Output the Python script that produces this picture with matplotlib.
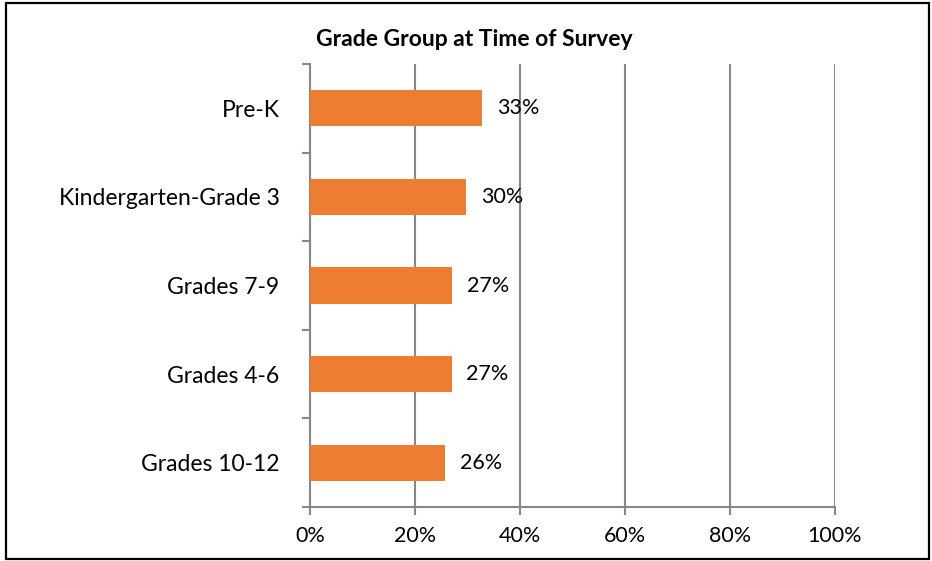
import matplotlib.pyplot as plt
import numpy as np
from matplotlib.patches import Rectangle

plt.rcParams["font.family"] = ["Lato", "DejaVu Sans"]

categorias = ["Pre-K", "Kindergarten-Grade 3", "Grades 7-9", "Grades 4-6", "Grades 10-12"]
valores = [32.8, 29.8, 27.1, 27.0, 25.7]
etiquetas = ["33%", "30%", "27%", "27%", "26%"]
ticks_x = [0, 20, 40, 60, 80, 100]

gris = "#888888"
naranja = "#ED7D31"

fig = plt.figure(figsize=(9.32, 5.61), dpi=100)
ax = fig.add_axes([310 / 932, 1 - 507 / 561, 525 / 932, 443 / 561])

y = np.arange(len(categorias))
ax.barh(y, valores, height=0.41, color=naranja, zorder=3)
for yi, v, t in zip(y, valores, etiquetas):
    ax.text(v + 2.8, yi, t, va="center", ha="left", fontsize=15.5, zorder=4)

ax.set_xlim(0, 100)
ax.set_ylim(len(categorias) - 0.5, -0.5)
ax.set_xticks(ticks_x)
ax.set_xticklabels([f"{t}%" for t in ticks_x], fontsize=15.5)
ax.set_yticks(np.arange(len(categorias) + 1) - 0.5)
ax.set_yticklabels([])
ax.set_yticks(y, minor=True)
ax.set_yticklabels(categorias, minor=True, fontsize=16.5)
ax.tick_params(axis="y", which="minor", length=0, pad=22)
ax.tick_params(axis="y", which="major", length=6, width=1.5, color=gris)
ax.tick_params(axis="x", length=6, width=1.5, color=gris, pad=8)

ax.grid(axis="x", color=gris, linewidth=1.5, zorder=0)
for lado in ["top", "right"]:
    ax.spines[lado].set_visible(False)
for lado in ["left", "bottom"]:
    ax.spines[lado].set_color(gris)
    ax.spines[lado].set_linewidth(1.5)

fig.text(474 / 932, 1 - 40 / 561, "Grade Group at Time of Survey", ha="center", va="center",
         fontsize=16.5, fontweight="bold")

fig.add_artist(Rectangle((6 / 932, 2 / 561), 923 / 932, 556 / 561, transform=fig.transFigure,
                         fill=False, edgecolor="black", linewidth=1.6))

fig.savefig("out.png", dpi=100)
